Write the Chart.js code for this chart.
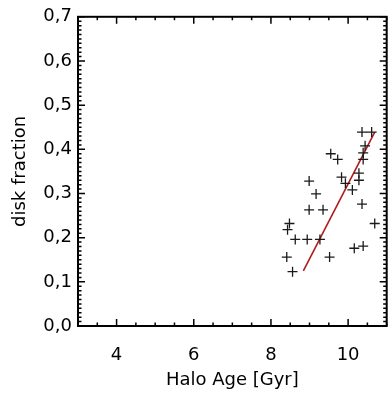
<!DOCTYPE html>
<html>
<head>
<meta charset="utf-8">
<script src="https://cdn.jsdelivr.net/npm/chart.js@4.4.1/dist/chart.umd.min.js"></script>
<style>
    html, body { margin: 0; padding: 0; background: #fff; overflow: hidden; }
</style>
</head>
<body>
<canvas id="myChart" width="393" height="399"></canvas>
<script>
// halo age [Gyr] and disk fraction of each galaxy
var ages = [10.36, 10.61, 10.44, 10.39, 10.39, 9.55, 9.73, 10.28, 10.28, 9.83,
            9.93, 10.11, 8.99, 9.17, 8.99, 9.35, 10.36, 10.69, 8.48, 8.43,
            8.63, 8.94, 9.27, 10.16, 10.39, 8.41, 9.52, 8.56];
var fractions = [0.439, 0.439, 0.408, 0.392, 0.377, 0.390, 0.377, 0.346, 0.330, 0.337,
                 0.323, 0.308, 0.328, 0.299, 0.263, 0.263, 0.276, 0.232, 0.232, 0.218,
                 0.196, 0.196, 0.196, 0.176, 0.181, 0.156, 0.156, 0.123];

// linear fit
var fitAges = [8.84, 10.69];
var fitFractions = [0.125, 0.439];

var xTicks = [4, 6, 8, 10];
var yTicks = [0, 0.1, 0.2, 0.3, 0.4, 0.5, 0.6, 0.7];

var pontos = [];
for (var i = 0; i < ages.length; i++) {
    pontos.push({ x: ages[i], y: fractions[i] });
}
var reta = [];
for (var j = 0; j < fitAges.length; j++) {
    reta.push({ x: fitAges[j], y: fitFractions[j] });
}

// box with inward major/minor ticks on all four sides
var moldura = {
    id: 'moldura',
    afterDraw: function (chart) {
        var ctx = chart.ctx;
        var a = chart.chartArea;
        var sx = chart.scales.x;
        var sy = chart.scales.y;
        ctx.save();
        ctx.strokeStyle = '#000';
        ctx.lineWidth = 2;
        ctx.strokeRect(a.left, a.top, a.right - a.left, a.bottom - a.top);

        ctx.lineWidth = 1.5;
        ctx.beginPath();
        for (var k = 6; k <= 22; k++) {
            var v = k / 2;
            var px = sx.getPixelForValue(v);
            var len = (v % 2 === 0) ? 7 : 3.5;
            ctx.moveTo(px, a.bottom);
            ctx.lineTo(px, a.bottom - len);
            ctx.moveTo(px, a.top);
            ctx.lineTo(px, a.top + len);
        }
        for (var n = 0; n <= 70; n++) {
            var py = sy.getPixelForValue(n / 100);
            var l = (n % 10 === 0) ? 7 : 3.5;
            ctx.moveTo(a.left, py);
            ctx.lineTo(a.left + l, py);
            ctx.moveTo(a.right, py);
            ctx.lineTo(a.right - l, py);
        }
        ctx.stroke();
        ctx.restore();
    }
};

var fonte = { family: 'DejaVu Sans', size: 18 };

var ctx = document.getElementById('myChart');
var myChart = new Chart(ctx, {
    type: 'scatter',
    data: {
        datasets: [{
            data: pontos,
            pointStyle: 'cross',
            pointRadius: 5,
            pointHoverRadius: 5,
            pointBorderWidth: 1.3,
            borderColor: '#1a1a1a',
            backgroundColor: '#1a1a1a'
        }, {
            type: 'line',
            data: reta,
            borderColor: '#b01c1c',
            borderWidth: 1.6,
            pointRadius: 0,
            fill: false
        }]
    },
    options: {
        responsive: false,
        animation: false,
        events: [],
        layout: { padding: { top: 12, right: 2, left: 0, bottom: 0 } },
        plugins: {
            legend: { display: false },
            tooltip: { enabled: false }
        },
        scales: {
            x: {
                type: 'linear',
                min: 3,
                max: 11,
                grid: { display: false, drawTicks: false },
                border: { display: false },
                afterBuildTicks: function (scale) {
                    scale.ticks = xTicks.map(function (v) { return { value: v }; });
                },
                afterFit: function (scale) { scale.height = 73; },
                ticks: {
                    padding: 19,
                    color: '#000',
                    font: fonte,
                    maxRotation: 0
                },
                title: {
                    display: true,
                    text: 'Halo Age [Gyr]',
                    color: '#000',
                    font: fonte,
                    padding: { top: 0, bottom: 8 }
                }
            },
            y: {
                min: 0,
                max: 0.7,
                grid: { display: false, drawTicks: false },
                border: { display: false },
                afterBuildTicks: function (scale) {
                    scale.ticks = yTicks.map(function (v) { return { value: v }; });
                },
                afterFit: function (scale) { scale.width = 78; },
                ticks: {
                    padding: 6,
                    color: '#000',
                    font: fonte,
                    callback: function (value) {
                        return value.toFixed(1).replace('.', ',');
                    }
                },
                title: {
                    display: true,
                    text: 'disk fraction',
                    color: '#000',
                    font: fonte,
                    padding: { top: 10, bottom: 0 }
                }
            }
        }
    },
    plugins: [moldura]
});
</script>
</body>
</html>
